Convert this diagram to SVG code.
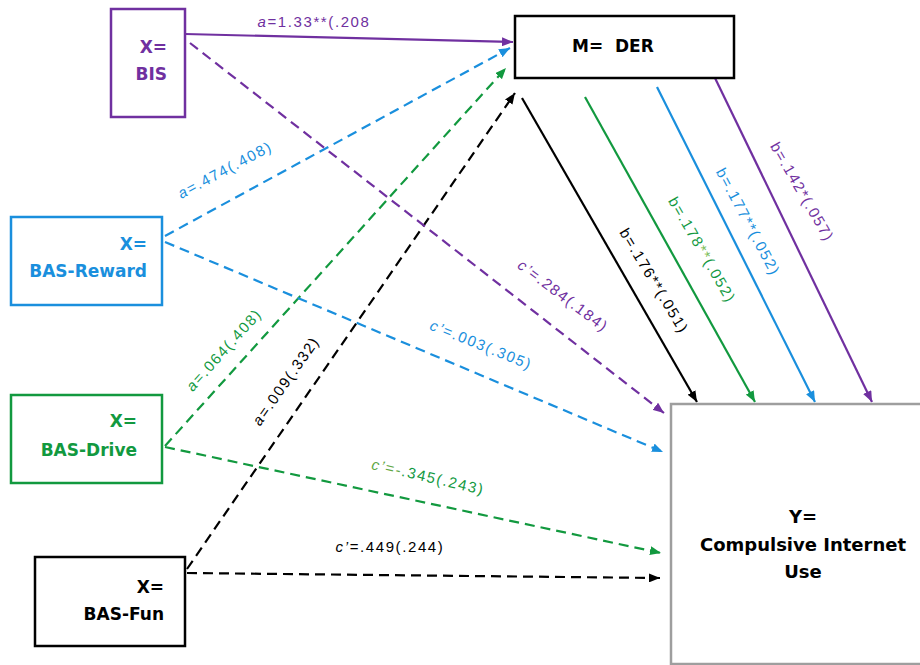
<svg xmlns="http://www.w3.org/2000/svg" width="920" height="665" viewBox="0 0 920 665">
<defs>
<style>
.box{fill:#fff;stroke-width:2.5}
.nl{font-family:"DejaVu Sans","Liberation Sans",sans-serif;font-weight:bold;font-size:17px}
.el{font-family:"Liberation Sans",Arial,sans-serif;font-size:15px;letter-spacing:1.6px}
.it{font-style:italic}
.ln{fill:none;stroke-width:2.2}
.da{stroke-dasharray:10,6}
.pu{stroke:#7030A0}.bl{stroke:#1A8FDD}.gr{stroke:#12993F}.bk{stroke:#000}
.tpu{fill:#7030A0}.tbl{fill:#1A8FDD}.tgr{fill:#12993F}.tbk{fill:#000}
</style>
<marker id="aPu" markerUnits="userSpaceOnUse" markerWidth="11" markerHeight="9" refX="11" refY="4.5" orient="auto"><path d="M0,0 L11,4.5 L0,9 z" fill="#7030A0"/></marker>
<marker id="aBl" markerUnits="userSpaceOnUse" markerWidth="11" markerHeight="9" refX="11" refY="4.5" orient="auto"><path d="M0,0 L11,4.5 L0,9 z" fill="#1A8FDD"/></marker>
<marker id="aGr" markerUnits="userSpaceOnUse" markerWidth="11" markerHeight="9" refX="11" refY="4.5" orient="auto"><path d="M0,0 L11,4.5 L0,9 z" fill="#12993F"/></marker>
<marker id="aBk" markerUnits="userSpaceOnUse" markerWidth="11" markerHeight="9" refX="11" refY="4.5" orient="auto"><path d="M0,0 L11,4.5 L0,9 z" fill="#000"/></marker>
</defs>
<rect width="920" height="665" fill="#fff"/>

<g id="connectors">
<line class="ln pu" x1="185" y1="34" x2="513" y2="42" marker-end="url(#aPu)"/>
<line class="ln bl da" x1="165" y1="236" x2="510" y2="48" marker-end="url(#aBl)"/>
<line class="ln gr da" x1="165" y1="446" x2="506" y2="68" marker-end="url(#aGr)"/>
<line class="ln bk da" x1="187" y1="569" x2="515" y2="93" marker-end="url(#aBk)"/>
<line class="ln pu da" x1="190" y1="43" x2="664" y2="413" marker-end="url(#aPu)"/>
<line class="ln bl da" x1="165" y1="242" x2="663" y2="452" marker-end="url(#aBl)"/>
<line class="ln gr da" x1="165" y1="447" x2="661" y2="553" marker-end="url(#aGr)"/>
<line class="ln bk da" x1="187" y1="573" x2="660" y2="578" marker-end="url(#aBk)"/>
<line class="ln bk" x1="522" y1="98" x2="697" y2="402" marker-end="url(#aBk)"/>
<line class="ln gr" x1="585" y1="97" x2="755" y2="402" marker-end="url(#aGr)"/>
<line class="ln bl" x1="657" y1="87" x2="815" y2="402" marker-end="url(#aBl)"/>
<line class="ln pu" x1="715" y1="78" x2="872" y2="402" marker-end="url(#aPu)"/>

<text class="el tpu" x="314" y="27" text-anchor="middle"><tspan class="it">a</tspan>=1.33**(.208</text>
<text class="el tbl" transform="translate(225,170) rotate(-28)" x="0" y="5" text-anchor="middle"><tspan class="it">a</tspan>=.474(.408)</text>
<text class="el tgr" transform="translate(224,350) rotate(-48)" x="0" y="5" text-anchor="middle"><tspan class="it">a</tspan>=.064(.408)</text>
<text class="el tbk" transform="translate(286,381) rotate(-55)" x="0" y="5" text-anchor="middle"><tspan class="it">a</tspan>=.009(.332)</text>
<text class="el tpu" transform="translate(563,296) rotate(37)" x="0" y="5" text-anchor="middle"><tspan class="it">c’</tspan>=.284(.184)</text>
<text class="el tbl" transform="translate(481,345) rotate(22)" x="0" y="5" text-anchor="middle"><tspan class="it">c’</tspan>=.003(.305)</text>
<text class="el tgr" transform="translate(428,477) rotate(13)" x="0" y="5" text-anchor="middle"><tspan class="it" fill="#5FA845">c’=-</tspan>.345(.243)</text>
<text class="el tbk" x="390" y="552" text-anchor="middle"><tspan class="it">c’</tspan>=.449(.244)</text>
<text class="el tbk" transform="translate(654,281) rotate(59)" x="0" y="5" text-anchor="middle">b=.176**(.051)</text>
<text class="el tgr" transform="translate(702,250) rotate(60)" x="0" y="5" text-anchor="middle">b=.178<tspan fill="#7DBE5A">**</tspan>(.052)</text>
<text class="el tbl" transform="translate(748,222) rotate(62)" x="0" y="5" text-anchor="middle">b=.177**(.052)</text>
<text class="el tpu" transform="translate(802,192) rotate(60)" x="0" y="5" text-anchor="middle">b=.142*(.057)</text>
</g>

<g id="node-bis">
<rect class="box" x="111" y="9" width="74" height="108" stroke="#7030A0" stroke-width="2"/>
<text class="nl tpu" x="167" y="53" text-anchor="end">X=</text>
<text class="nl tpu" x="167" y="80" text-anchor="end">BIS</text>
</g>
<g id="node-reward">
<rect class="box" x="11" y="217" width="151" height="88" stroke="#1A8FDD"/>
<text class="nl tbl" x="147" y="250" text-anchor="end">X=</text>
<text class="nl tbl" x="147" y="277" text-anchor="end">BAS-Reward</text>
</g>
<g id="node-drive">
<rect class="box" x="11" y="395" width="151" height="88" stroke="#12993F"/>
<text class="nl tgr" x="137" y="427" text-anchor="end">X=</text>
<text class="nl tgr" x="137" y="456" text-anchor="end">BAS-Drive</text>
</g>
<g id="node-fun">
<rect class="box" x="35" y="557" width="150" height="89" stroke="#000"/>
<text class="nl tbk" x="164" y="593" text-anchor="end">X=</text>
<text class="nl tbk" x="164" y="620" text-anchor="end">BAS-Fun</text>
</g>
<g id="node-m">
<rect class="box" x="515" y="16" width="219" height="62" stroke="#000" stroke-width="3"/>
<text class="nl tbk" x="572" y="52" xml:space="preserve">M=  DER</text>
</g>
<g id="node-y">
<rect class="box" x="671" y="404" width="270" height="260" stroke="#9E9E9E"/>
<text class="nl tbk" x="803" y="523" text-anchor="middle" style="font-size:18px">Y=</text>
<text class="nl tbk" x="803" y="551" text-anchor="middle" style="font-size:18px">Compulsive Internet</text>
<text class="nl tbk" x="803" y="578" text-anchor="middle" style="font-size:18px">Use</text>
</g>
</svg>
